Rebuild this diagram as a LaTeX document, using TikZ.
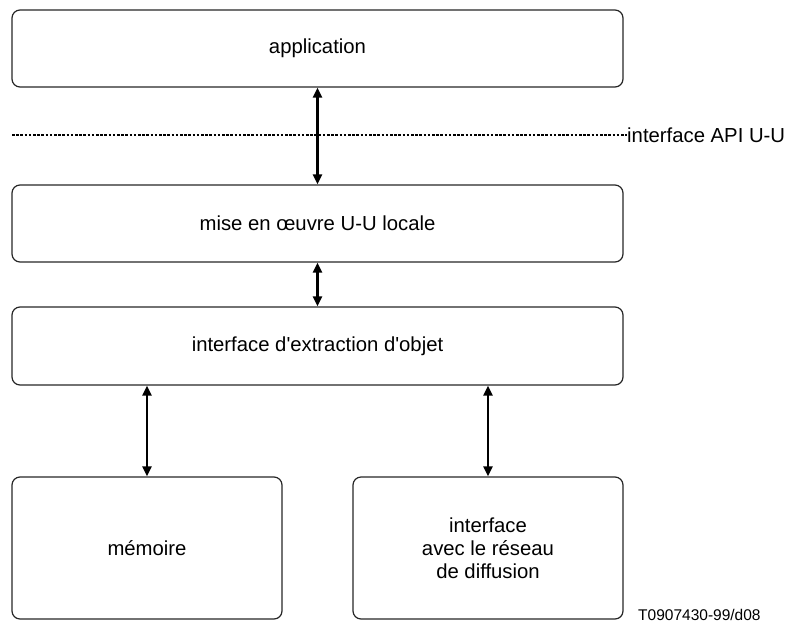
\documentclass[tikz,border=0pt]{standalone}
\usepackage{fontspec}
\setmainfont{Liberation Sans}
\usetikzlibrary{arrows.meta}
\begin{document}
\begin{tikzpicture}[x=1pt,y=-1pt,
  box/.style={draw=black!85, line width=1.2pt, rounded corners=8pt, inner sep=0pt,
              font=\fontsize{20.3}{23}\selectfont, align=center},
  conn/.style={line width=2.3pt, {Triangle[length=10pt,width=9pt]}-{Triangle[length=10pt,width=9pt]}},
  dots/.style={line width=1.5pt, dash pattern=on 2.6pt off 1.6pt},
  ]
\useasboundingbox (0,0) rectangle (792,624);
\node[box, minimum width=611pt, minimum height=77pt] (app) at (317.5,48.5) {application};
\node[box, minimum width=611pt, minimum height=77pt] (mise) at (317.5,223.5) {mise en œuvre U-U locale};
\node[box, minimum width=611pt, minimum height=78pt] (ext) at (317.5,346) {interface d\textquotesingle extraction d\textquotesingle objet};
\node[box, minimum width=270pt, minimum height=142pt] (mem) at (147,548) {mémoire};
\node[box, minimum width=270pt, minimum height=142pt] (net) at (488,548) {interface\\avec le réseau\\de diffusion};
\coordinate (dl) at (12,135);
\node[anchor=west, inner sep=0pt, font=\fontsize{20.3}{23}\selectfont] (api) at (627,135) {interface API U-U};
\draw[dots] (dl) -- (api.west);
\draw[conn] (app.south) -- (mise.north);
\draw[conn] (mise.south) -- (ext.north);
\draw[conn] (ext.south -| mem.north) -- (mem.north);
\draw[conn] (ext.south -| net.north) -- (net.north);
\node[anchor=base west, inner sep=0pt, font=\fontsize{15.5}{18}\selectfont] (cap) at (638,620) {T0907430-99/d08};
\end{tikzpicture}
\end{document}
